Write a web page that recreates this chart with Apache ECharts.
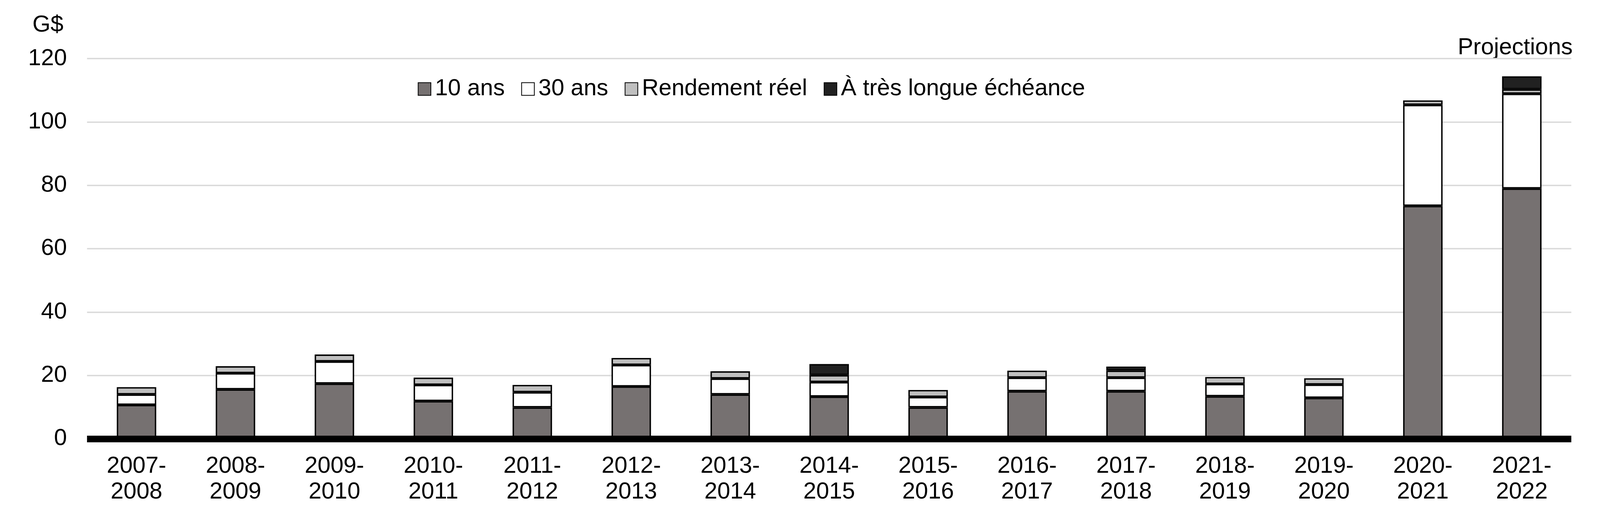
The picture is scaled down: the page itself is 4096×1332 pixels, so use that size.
<!DOCTYPE html>
<html>
<head>
<meta charset="utf-8">
<script src="https://cdn.jsdelivr.net/npm/echarts@6/dist/echarts.min.js"></script>
<style>
html,body{margin:0;padding:0;background:#ffffff;}
#chart{width:4096px;height:1332px;}
</style>
</head>
<body>
<div id="chart"></div>
<script>
// ---- data (G$) ----
const categories = ['2007-\n2008','2008-\n2009','2009-\n2010','2010-\n2011','2011-\n2012','2012-\n2013','2013-\n2014','2014-\n2015','2015-\n2016','2016-\n2017','2017-\n2018','2018-\n2019','2019-\n2020','2020-\n2021','2021-\n2022'];
const seriesNames = ['10 ans', '30 ans', 'Rendement réel', 'À très longue échéance'];
const tenYear     = [10.7, 15.6, 17.4, 11.9, 9.9, 16.5, 14.0, 13.3, 9.9, 15.0, 15.0, 13.4, 12.9, 73.5, 79.0];
const thirtyYear  = [3.3, 5.1, 7.0, 5.1, 4.8, 6.8, 5.0, 4.6, 3.3, 4.3, 4.3, 3.9, 4.2, 31.9, 29.9];
const realReturn  = [2.3, 2.2, 2.2, 2.3, 2.3, 2.2, 2.3, 2.2, 2.2, 2.2, 2.2, 2.2, 2.0, 1.4, 1.4];
const ultraLong   = [null, null, null, null, null, null, null, 3.5, null, null, 1.3, null, null, null, 4.1];
const yMin = 0, yMax = 120, yInterval = 20;
const unitLabel = 'G$';
const noteLabel = 'Projections';

// ---- styling ----
const FONT = "'Liberation Sans', Arial, Helvetica, sans-serif";
const FS = 59.5;
const colors = ['#767171', '#ffffff', '#bfbfbf', '#212121'];
const BORDER = 3.6;

const dataSets = [tenYear, thirtyYear, realReturn, ultraLong];
const series = dataSets.map((d, i) => ({
  name: seriesNames[i],
  type: 'bar',
  stack: 'total',
  barWidth: 101,
  data: d,
  itemStyle: { color: colors[i], borderColor: '#000000', borderWidth: BORDER },
  emphasis: { disabled: true }
}));

const chart = echarts.init(document.getElementById('chart'), null, { renderer: 'canvas' });
chart.setOption({
  animation: false,
  backgroundColor: '#ffffff',
  textStyle: { fontFamily: FONT },
  grid: { left: 222.8, right: 73.5, top: 150.1, bottom: 208.1, containLabel: false, outerBoundsMode: 'none' },
  legend: {
    data: seriesNames,
    left: 1069.5, top: 198, padding: 0,
    itemWidth: 32.5, itemHeight: 32.5, itemGap: 42.2,
    icon: 'rect', selectedMode: false,
    textStyle: { fontFamily: FONT, fontSize: FS, color: '#000000', lineHeight: 60, padding: [0, 0, 0, 5.5] }
  },
  xAxis: {
    type: 'category',
    data: categories,
    z: 10,
    axisLine: { show: true, onZero: true, lineStyle: { color: '#000000', width: 17, cap: 'butt' } },
    axisTick: { show: false },
    axisLabel: { fontFamily: FONT, fontSize: FS, lineHeight: 66, color: '#000000', margin: 38, interval: 0, align: 'center' },
    splitLine: { show: false }
  },
  yAxis: {
    type: 'value',
    min: yMin, max: yMax, interval: yInterval,
    axisLine: { show: false },
    axisTick: { show: false },
    axisLabel: { fontFamily: FONT, fontSize: FS, color: '#000000', margin: 51.5 },
    splitLine: { show: true, lineStyle: { color: '#d9d9d9', width: 3.5 } }
  },
  graphic: [
    { type: 'text', x: 83, y: 65, style: { text: unitLabel, fill: '#000000', font: FS + 'px ' + FONT, align: 'left', verticalAlign: 'middle' } },
    { type: 'text', x: 4026, y: 122.5, style: { text: noteLabel, fill: '#000000', font: FS + 'px ' + FONT, align: 'right', verticalAlign: 'middle' } }
  ],
  series: series
});
</script>
</body>
</html>
